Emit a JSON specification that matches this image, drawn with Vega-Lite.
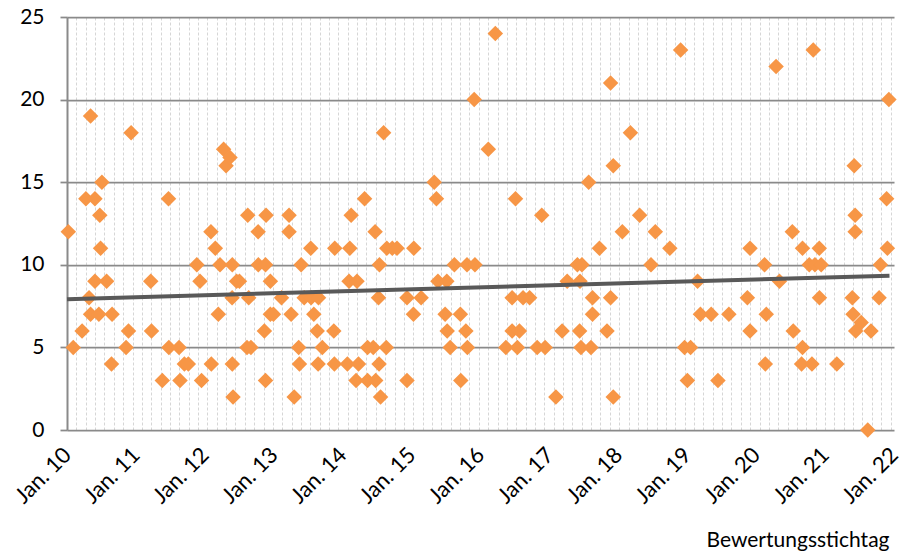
{
  "$schema": "https://vega.github.io/schema/vega-lite/v6.json",
  "autosize": {"type": "none"},
  "width": 827,
  "height": 413,
  "padding": {"left": 67, "top": 17, "right": 12, "bottom": 122},
  "background": "white",
  "config": {"view": {"stroke": null}},
  "datasets": {
    "points": [
      {"date":"2010-01-08","value":12},{"date":"2010-02-03","value":5},{"date":"2010-03-22","value":6},{"date":"2010-04-11","value":14},
      {"date":"2010-04-28","value":8},{"date":"2010-05-06","value":7},{"date":"2010-05-06","value":19},{"date":"2010-05-29","value":14},
      {"date":"2010-05-29","value":9},{"date":"2010-06-19","value":7},{"date":"2010-06-24","value":13},{"date":"2010-06-28","value":11},
      {"date":"2010-07-05","value":15},{"date":"2010-07-30","value":9},{"date":"2010-08-28","value":7},{"date":"2010-08-25","value":4},
      {"date":"2010-11-10","value":5},{"date":"2010-11-23","value":6},{"date":"2010-12-07","value":18},{"date":"2011-03-21","value":9},
      {"date":"2011-03-25","value":6},{"date":"2011-05-21","value":3},{"date":"2011-06-23","value":14},{"date":"2011-06-25","value":5},
      {"date":"2011-08-18","value":5},{"date":"2011-08-23","value":3},{"date":"2011-09-15","value":4},{"date":"2011-10-06","value":4},
      {"date":"2011-11-20","value":10},{"date":"2011-12-07","value":9},{"date":"2011-12-15","value":3},{"date":"2012-02-03","value":12},
      {"date":"2012-02-05","value":4},{"date":"2012-02-26","value":11},{"date":"2012-03-13","value":7},{"date":"2012-03-22","value":10},
      {"date":"2012-04-10","value":17},{"date":"2012-04-23","value":16},{"date":"2012-05-14","value":16.5},{"date":"2012-05-25","value":8},
      {"date":"2012-05-26","value":10},{"date":"2012-05-26","value":4},{"date":"2012-05-30","value":2},{"date":"2012-06-18","value":9},
      {"date":"2012-07-03","value":9},{"date":"2012-08-16","value":13},{"date":"2012-08-21","value":8},{"date":"2012-08-12","value":5},
      {"date":"2012-09-02","value":5},{"date":"2012-10-10","value":12},{"date":"2012-10-11","value":10},{"date":"2012-11-18","value":10},
      {"date":"2012-11-12","value":6},{"date":"2012-11-21","value":13},{"date":"2012-11-18","value":3},{"date":"2012-12-14","value":9},
      {"date":"2012-12-14","value":7},{"date":"2012-12-30","value":7},{"date":"2013-02-11","value":8},{"date":"2013-03-23","value":13},
      {"date":"2013-03-23","value":12},{"date":"2013-04-03","value":7},{"date":"2013-04-19","value":2},{"date":"2013-05-13","value":5},
      {"date":"2013-05-17","value":4},{"date":"2013-05-26","value":10},{"date":"2013-06-11","value":8},{"date":"2013-07-18","value":8},
      {"date":"2013-08-26","value":8},{"date":"2013-07-16","value":11},{"date":"2013-08-01","value":7},{"date":"2013-08-19","value":6},
      {"date":"2013-09-15","value":5},{"date":"2013-08-24","value":4},{"date":"2013-11-15","value":6},{"date":"2013-11-20","value":11},
      {"date":"2013-11-18","value":4},{"date":"2014-01-26","value":4},{"date":"2014-02-08","value":11},{"date":"2014-02-15","value":13},
      {"date":"2014-02-04","value":9},{"date":"2014-03-18","value":9},{"date":"2014-03-26","value":4},{"date":"2014-03-13","value":3},
      {"date":"2014-04-27","value":14},{"date":"2014-05-13","value":5},{"date":"2014-06-12","value":5},{"date":"2014-05-13","value":3},
      {"date":"2014-06-25","value":3},{"date":"2014-06-22","value":12},{"date":"2014-07-10","value":8},{"date":"2014-07-15","value":10},
      {"date":"2014-07-13","value":4},{"date":"2014-07-21","value":2},{"date":"2014-08-06","value":18},{"date":"2014-08-20","value":5},
      {"date":"2014-08-23","value":11},{"date":"2014-09-21","value":11},{"date":"2014-10-16","value":11},{"date":"2014-12-08","value":8},
      {"date":"2014-12-08","value":3},{"date":"2015-01-13","value":11},{"date":"2015-01-11","value":7},{"date":"2015-02-21","value":8},
      {"date":"2015-05-01","value":15},{"date":"2015-05-13","value":14},{"date":"2015-05-21","value":9},{"date":"2015-07-07","value":9},
      {"date":"2015-06-28","value":7},{"date":"2015-07-09","value":6},{"date":"2015-07-25","value":5},{"date":"2015-08-16","value":10},
      {"date":"2015-09-17","value":7},{"date":"2015-09-19","value":3},{"date":"2015-10-16","value":6},{"date":"2015-10-22","value":10},
      {"date":"2015-10-24","value":5},{"date":"2015-12-03","value":10},{"date":"2015-11-29","value":20},{"date":"2016-02-12","value":17},
      {"date":"2016-03-20","value":24},{"date":"2016-05-15","value":5},{"date":"2016-07-15","value":5},{"date":"2016-06-17","value":8},
      {"date":"2016-08-14","value":8},{"date":"2016-09-18","value":8},{"date":"2016-06-17","value":6},{"date":"2016-07-26","value":6},
      {"date":"2016-07-05","value":14},{"date":"2016-11-21","value":13},{"date":"2016-10-28","value":5},{"date":"2016-12-09","value":5},
      {"date":"2017-02-04","value":2},{"date":"2017-03-09","value":6},{"date":"2017-04-05","value":9},{"date":"2017-05-29","value":10},
      {"date":"2017-06-22","value":10},{"date":"2017-06-12","value":9},{"date":"2017-06-10","value":6},{"date":"2017-06-17","value":5},
      {"date":"2017-08-09","value":5},{"date":"2017-07-28","value":15},{"date":"2017-08-17","value":8},{"date":"2017-08-17","value":7},
      {"date":"2017-09-23","value":11},{"date":"2017-11-02","value":6},{"date":"2017-11-21","value":8},{"date":"2017-11-21","value":21},
      {"date":"2017-12-05","value":16},{"date":"2017-12-05","value":2},{"date":"2018-01-22","value":12},{"date":"2018-03-06","value":18},
      {"date":"2018-04-24","value":13},{"date":"2018-06-23","value":10},{"date":"2018-07-16","value":12},{"date":"2018-10-01","value":11},
      {"date":"2018-11-27","value":23},{"date":"2018-12-18","value":5},{"date":"2019-01-19","value":5},{"date":"2019-01-02","value":3},
      {"date":"2019-02-25","value":9},{"date":"2019-03-12","value":7},{"date":"2019-05-08","value":7},{"date":"2019-06-13","value":3},
      {"date":"2019-08-10","value":7},{"date":"2019-11-16","value":8},{"date":"2019-11-30","value":11},{"date":"2019-11-30","value":6},
      {"date":"2020-02-15","value":10},{"date":"2020-02-19","value":4},{"date":"2020-02-24","value":7},{"date":"2020-04-16","value":22},
      {"date":"2020-05-04","value":9},{"date":"2020-07-11","value":12},{"date":"2020-07-16","value":6},{"date":"2020-09-03","value":11},
      {"date":"2020-09-03","value":5},{"date":"2020-08-29","value":4},{"date":"2020-10-09","value":10},{"date":"2020-10-23","value":4},
      {"date":"2020-10-30","value":23},{"date":"2020-11-08","value":10},{"date":"2020-12-01","value":11},{"date":"2020-12-02","value":8},
      {"date":"2020-12-11","value":10},{"date":"2021-03-04","value":4},{"date":"2021-05-29","value":7},{"date":"2021-05-25","value":8},
      {"date":"2021-06-04","value":16},{"date":"2021-06-09","value":13},{"date":"2021-06-09","value":12},{"date":"2021-06-12","value":6},
      {"date":"2021-07-11","value":6.5},{"date":"2021-08-15","value":0},{"date":"2021-09-01","value":6},{"date":"2021-10-14","value":8},
      {"date":"2021-10-21","value":10},{"date":"2021-11-23","value":14},{"date":"2021-11-27","value":11},{"date":"2021-12-05","value":20}
    ],
    "trend": [
      {"date":"2010-01-01","value":7.92},
      {"date":"2021-12-08","value":9.34}
    ]
  },
  "encoding": {
    "y": {
      "field": "value", "type": "quantitative",
      "scale": {"domain": [0, 25], "nice": false, "zero": true},
      "axis": {
        "title": null, "values": [0, 5, 10, 15, 20, 25],
        "grid": true, "gridColor": "#8a8a8a", "gridWidth": 1.75,
        "domain": true, "domainColor": "#8a8a8a", "domainWidth": 2,
        "ticks": true, "tickSize": 7, "tickColor": "#8a8a8a", "tickWidth": 1.75,
        "labelFont": "Lato", "labelFontSize": 21, "labelColor": "#000000", "labelPadding": 16
      }
    }
  },
  "layer": [
    {
      "data": {"name": "points"},
      "mark": {"type": "point", "shape": "diamond", "filled": true, "size": 240, "color": "#F79646", "opacity": 1, "strokeWidth": 0},
      "encoding": {
        "x": {
          "field": "date", "type": "temporal",
          "scale": {"type": "utc", "domain": [1262304000000, 1640995200000], "nice": false},
          "axis": {
            "orient": "top", "title": null, "labels": false, "ticks": false, "domain": false,
            "grid": true, "gridColor": "#d6d6d6", "gridWidth": 1, "gridDash": [3, 2],
            "values": [1262304000000,1266589440000,1270874880000,1275160320000,1279445760000,1283731200000,1288016640000,1292302080000,1296587520000,1300872960000,1305158400000,1309443840000,1313729280000,1318014720000,1322300160000,1326585600000,1330871040000,1335156480000,1339441920000,1343727360000,1348012800000,1352298240000,1356583680000,1360869120000,1365154560000,1369440000000,1373725440000,1378010880000,1382296320000,1386581760000,1390867200000,1395152640000,1399438080000,1403723520000,1408008960000,1412294400000,1416579840000,1420865280000,1425150720000,1429436160000,1433721600000,1438007040000,1442292480000,1446577920000,1450863360000,1455148800000,1459434240000,1463719680000,1468005120000,1472290560000,1476576000000,1480861440000,1485146880000,1489432320000,1493717760000,1498003200000,1502288640000,1506574080000,1510859520000,1515144960000,1519430400000,1523715840000,1528001280000,1532286720000,1536572160000,1540857600000,1545143040000,1549428480000,1553713920000,1557999360000,1562284800000,1566570240000,1570855680000,1575141120000,1579426560000,1583712000000,1587997440000,1592282880000,1596568320000,1600853760000,1605139200000,1609424640000,1613710080000,1617995520000,1622280960000,1626566400000,1630851840000,1635137280000,1639422720000]
          }
        }
      }
    },
    {
      "data": {"name": "trend"},
      "mark": {"type": "line", "color": "#595959", "strokeWidth": 4, "strokeCap": "butt"},
      "encoding": {
        "x": {
          "field": "date", "type": "temporal",
          "scale": {"type": "utc", "domain": [1262304000000, 1640995200000], "nice": false},
          "axis": {
            "orient": "bottom", "grid": false, "domain": false, "ticks": false,
            "values": [1262304000000,1293840000000,1325376000000,1356998400000,1388534400000,1420070400000,1451606400000,1483228800000,1514764800000,1546300800000,1577836800000,1609459200000,1640995200000],
            "labelExpr": "'Jan. ' + utcFormat(datum.value, '%y')",
            "labelAngle": -45, "labelAlign": "right", "labelBaseline": "middle",
            "labelFont": "Lato", "labelFontSize": 22, "labelColor": "#000000",
            "labelPadding": 21, "labelOverlap": false, "labelFlush": false, "labelBound": false,
            "title": "Bewertungsstichtag", "titleFont": "Lato", "titleFontSize": 21, "titleFontWeight": "normal",
            "titleColor": "#000000", "titleAlign": "right", "titleAnchor": "end", "titleBaseline": "alphabetic",
            "titleX": 822, "titleY": 116
          }
        }
      }
    }
  ],
  "resolve": {"axis": {"x": "independent"}}
}
